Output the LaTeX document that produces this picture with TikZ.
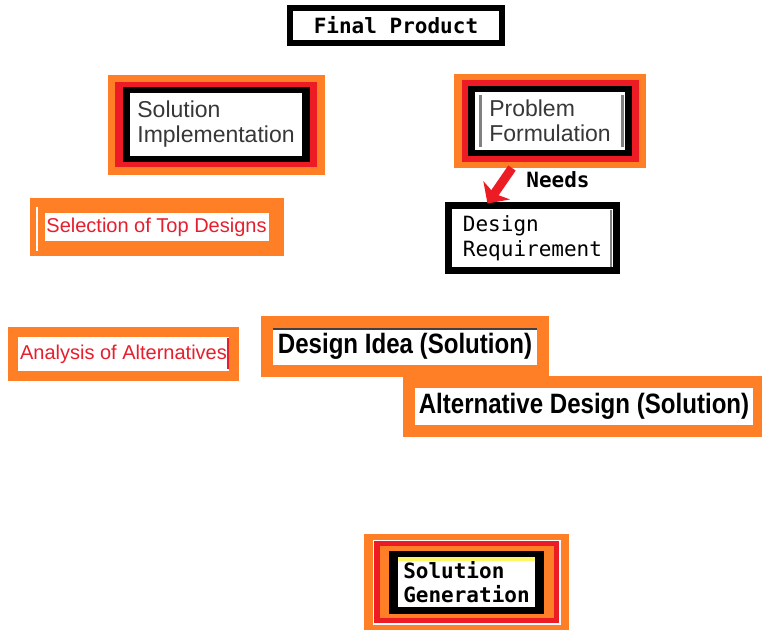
\documentclass[tikz,border=0pt]{standalone}
\usepackage{fontspec}
\setmainfont{Liberation Sans}
\newfontfamily\monofont{DejaVu Sans Mono}
\newfontfamily\narrowfont[FakeStretch=0.86]{Liberation Sans}
\usetikzlibrary{fit,backgrounds,arrows.meta}

\definecolor{paintorange}{RGB}{255,127,39}
\definecolor{paintred}{RGB}{237,28,36}
\definecolor{textred}{RGB}{230,30,45}
\definecolor{textgray}{RGB}{55,55,55}

\tikzset{
  mono/.style={font=\monofont\fontsize{10.5pt}{12.5pt}\selectfont},
  monobold/.style={font=\monofont\bfseries\fontsize{10.5pt}{12pt}\selectfont},
  plain/.style={font=\fontsize{11.5pt}{12.5pt}\selectfont,text=textgray},
  redtext/.style={font=\fontsize{10pt}{12pt}\selectfont,text=textred},
  bigbold/.style={font=\narrowfont\bfseries\fontsize{14pt}{16pt}\selectfont},
  orangebox/.style={draw=paintorange,fill=white,line width=#1},
  blackbox/.style={draw=black,fill=white,line width=#1},
  frame/.style n args={3}{fill=#1,inner xsep=#2,inner ysep=#3},
  needsarrow/.style={draw=paintred,line width=4.5pt,-{Stealth[length=8pt,width=16pt,inset=2pt]}},
}

\begin{document}
\begin{tikzpicture}[x=0.5pt,y=-0.5pt]
    % \draw[step=20,help lines] (0,0) grid (762,629);
    \tikzstyle{every node}=[inner sep=0pt,outer sep=0pt]
    \useasboundingbox (0,0) rectangle (762,629);

    \node[blackbox=3pt,monobold,minimum width=106pt,minimum height=17.5pt] (final) at (396,25.5) {Final Product};

    % left column
    \node[fill=white,plain,align=left,minimum width=86pt,minimum height=31.5pt] (impl) at (216,124.5) {Solution\\Implementation};
    \node[orangebox=7.5pt,redtext,minimum width=119.5pt,minimum height=21.5pt] (sel) at (156.5,227) {Selection of Top Designs};
    \node[orangebox=5pt,redtext,minimum width=110.5pt,minimum height=22pt] (ana) at (123.5,354) {Analysis of Alternatives};

    % right column
    \node[fill=white,plain,align=left,minimum width=75pt,minimum height=29pt] (prob) at (550,121) {Problem\\Formulation};
    \node[blackbox=3.5pt,mono,align=left,minimum width=84pt,minimum height=32.5pt] (req) at (532.5,238) {Design\\Requirement};
    \node[orangebox=6pt,bigbold,minimum width=138pt,minimum height=24.5pt] (idea) at (405,346.5) {Design Idea (Solution)};
    \node[orangebox=6pt,bigbold,minimum width=175pt,minimum height=24.5pt] (alt) at (584,406.5) {Alternative Design (Solution)};
    \node[fill=white,monobold,align=left,minimum width=68.5pt,minimum height=25pt] (gen) at (466.5,582) {Solution\\Generation};

    % nested frames
    \begin{scope}[on background layer]
      \node[frame={paintorange}{11.25pt}{9.25pt},fit=(impl)] (impl-3) {};
      \node[frame={paintred}{7.5pt}{5.5pt},fit=(impl)] (impl-2) {};
      \node[frame={black}{3.75pt}{3pt},fit=(impl)] (impl-1) {};

      \node[frame={paintorange}{10.5pt}{9pt},fit=(prob)] (prob-3) {};
      \node[frame={paintred}{6.75pt}{6pt},fit=(prob)] (prob-2) {};
      \node[frame={black}{3.5pt}{3pt},fit=(prob)] (prob-1) {};

      \node[frame={paintorange}{17pt}{11.75pt},fit=(gen)] (gen-5) {};
      \node[frame={white}{12.75pt}{8.75pt},fit=(gen)] (gen-4) {};
      \node[frame={paintred}{12pt}{8pt},fit=(gen)] (gen-3) {};
      \node[frame={paintorange}{9.25pt}{5.5pt},fit=(gen)] (gen-2) {};
      \node[frame={black}{4.5pt}{3.25pt},fit=(gen)] (gen-1) {};
    \end{scope}

    % small marks inside the boxes
    \draw[gray,line width=1.5pt] ([shift={(5,3)}]prob.north west) -- ([shift={(5,-3)}]prob.south west);
    \draw[gray,line width=1.5pt] ([shift={(-3,3)}]prob.north east) -- ([shift={(-3,-3)}]prob.south east);
    \draw[gray,line width=1pt] ([shift={(-5.5,4)}]req.north east) -- ([shift={(-5.5,-4)}]req.south east);
    \draw[white,line width=1.2pt] ([shift={(0,1)}]sel.north west) -- ([shift={(0,2.5)}]sel.south west);
    \draw[textred,line width=0.8pt] ([shift={(-6,6)}]ana.north east) -- ([shift={(-6,-7)}]ana.south east);
    \draw[darkgray,line width=1pt] ([shift={(6,7)}]idea.north west) -- ([shift={(-6,7)}]idea.north east);
    \fill[yellow!60] (gen.north west) rectangle ([shift={(0,3.5)}]gen.north east);

    \draw[needsarrow] ([shift={(-38,0)}]prob-3.south) -- ([shift={(-45,-2)}]req.north);
    \node[monobold] (needs) at (558,180) {Needs};
\end{tikzpicture}
\end{document}
